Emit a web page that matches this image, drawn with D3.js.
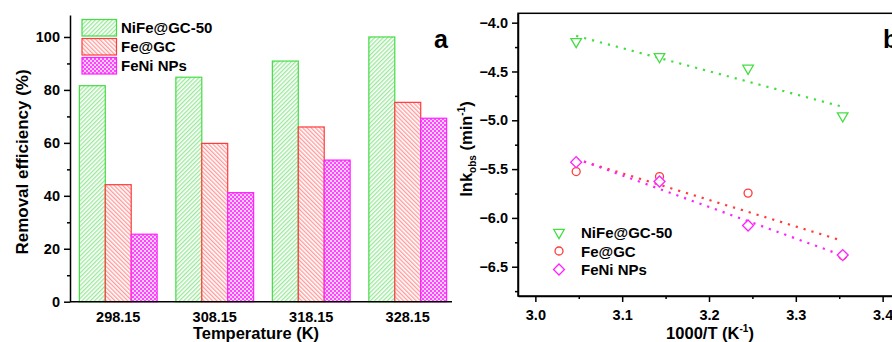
<!DOCTYPE html>
<html>
<head>
<meta charset="utf-8">
<script src="https://cdn.jsdelivr.net/npm/d3@7"></script>
<style>
  body { margin: 0; background: #fff; }
  svg { display: block; font-family: "Liberation Sans", Arial, sans-serif; font-weight: bold; }
  .axis path, .axis line { stroke: #000; stroke-width: 1.5; }
  .axis text { font-size: 14.5px; font-weight: bold; fill: #000; font-family: "Liberation Sans", Arial, sans-serif; }
</style>
</head>
<body>
<svg id="chart" width="892" height="342"></svg>
<script>
// data
const temps = ["298.15", "308.15", "318.15", "328.15"]
const seriesNames = ["NiFe@GC-50", "Fe@GC", "FeNi NPs"]
const effNiFe = [81.6, 84.8, 90.9, 100]
const effFe = [44.2, 59.8, 66.0, 75.3]
const effFeNi = [25.5, 41.2, 53.5, 69.3]
const invT = [3.354, 3.245, 3.143, 3.047]
const lnkNiFe = [-4.955, -4.467, -4.348, -4.194]
const lnkFe = [-6.385, -5.746, -5.576, -5.525]
const lnkFeNi = [-6.381, -6.078, -5.627, -5.429]
const effTicks = [0, 20, 40, 60, 80, 100]
const lnkTicks = [-4.0, -4.5, -5.0, -5.5, -6.0, -6.5]
const invTTicks = [3.0, 3.1, 3.2, 3.3, 3.4]

const colors = ["#44dd44", "#ff3b3b", "#ff22ff"]
const svg = d3.select("#chart")

// patterns for the bars
const defs = svg.append("defs")
function stripes(id, color, angle) {
  const p = defs.append("pattern").attr("id", id)
    .attr("patternUnits", "userSpaceOnUse").attr("width", 3).attr("height", 3)
    .attr("patternTransform", "rotate(" + angle + ")")
  p.append("rect").attr("width", 3).attr("height", 3).attr("fill", "#fff")
  p.append("rect").attr("width", 1.3).attr("height", 3).attr("fill", color)
}
stripes("patGreen", "#9be89b", 45)
stripes("patRed", "#ff9a9a", -45)
const chk = defs.append("pattern").attr("id", "patMag")
  .attr("patternUnits", "userSpaceOnUse").attr("width", 4).attr("height", 4)
chk.append("rect").attr("width", 4).attr("height", 4).attr("fill", "#ffd0ff")
chk.append("rect").attr("width", 2).attr("height", 2).attr("fill", "#ff44ff")
chk.append("rect").attr("x", 2).attr("y", 2).attr("width", 2).attr("height", 2).attr("fill", "#ff44ff")
const fills = ["url(#patGreen)", "url(#patRed)", "url(#patMag)"]

// ---------- panel a ----------
const x0 = d3.scaleBand().domain(temps).range([70, 456]).paddingInner(0.194).paddingOuter(0.097)
const x1 = d3.scaleBand().domain(seriesNames).range([0, x0.bandwidth()])
const yA = d3.scaleLinear().domain([0, 108.3]).range([301.7, 15])

const effs = [effNiFe, effFe, effFeNi]
const barData = []
temps.forEach((t, i) => seriesNames.forEach((s, j) => barData.push({ t: t, s: s, j: j, v: effs[j][i] })))

svg.append("g").selectAll("rect")
  .data(barData)
  .enter()
  .append("rect")
  .attr("x", d => x0(d.t) + x1(d.s))
  .attr("y", d => yA(d.v))
  .attr("width", x1.bandwidth())
  .attr("height", d => yA(0) - yA(d.v))
  .attr("fill", d => fills[d.j])
  .attr("stroke", d => colors[d.j])
  .attr("stroke-width", 1.2)

svg.append("g").attr("class", "axis")
  .attr("transform", "translate(70,0)")
  .call(d3.axisLeft(yA).tickValues(effTicks).tickSize(6).tickSizeOuter(0).tickPadding(4))
svg.append("g").attr("class", "axis")
  .attr("transform", "translate(70,0)")
  .call(d3.axisLeft(yA).tickValues([10, 30, 50, 70, 90]).tickSize(3).tickSizeOuter(0).tickFormat(""))
  .select(".domain").remove()

const xAxA = svg.append("g").attr("class", "axis")
  .attr("transform", "translate(0," + yA(0) + ")")
  .call(d3.axisBottom(x0).tickSize(0).tickSizeOuter(0).tickPadding(10))
xAxA.select(".domain").attr("d", "M70,0H452")

svg.append("text").attr("x", 256).attr("y", 339).attr("text-anchor", "middle")
  .attr("font-size", 16.5).text("Temperature (K)")
svg.append("text").attr("transform", "translate(28,162) rotate(-90)").attr("text-anchor", "middle")
  .attr("font-size", 17).text("Removal efficiency (%)")
svg.append("text").attr("x", 441).attr("y", 48).attr("text-anchor", "middle")
  .attr("font-size", 25).text("a")

// legend a
const legA = svg.append("g")
seriesNames.forEach((s, j) => {
  legA.append("rect").attr("x", 82).attr("y", 19.5 + j * 19).attr("width", 34.5).attr("height", 16.5)
    .attr("fill", fills[j]).attr("stroke", colors[j]).attr("stroke-width", 1.2)
  legA.append("text").attr("x", 121).attr("y", 33 + j * 19).attr("font-size", 15).text(s)
})

// ---------- panel b ----------
const xB = d3.scaleLinear().domain([2.98, 3.42]).range([518, 900])
const yB = d3.scaleLinear().domain([-6.8, -3.904]).range([296, 13.3])

svg.append("rect").attr("x", 518).attr("y", 13.3).attr("width", 382).attr("height", 282.7)
  .attr("fill", "none").attr("stroke", "#000").attr("stroke-width", 1.5)

svg.append("g").attr("class", "axis").attr("transform", "translate(518,0)")
  .call(d3.axisLeft(yB).tickValues(lnkTicks).tickSize(6).tickSizeOuter(0).tickPadding(4).tickFormat(d3.format(".1f")))
svg.append("g").attr("class", "axis").attr("transform", "translate(518,0)")
  .call(d3.axisLeft(yB).tickValues([-4.25, -4.75, -5.25, -5.75, -6.25, -6.75]).tickSize(3).tickFormat(""))
  .select(".domain").remove()
svg.append("g").attr("class", "axis").attr("transform", "translate(0,296)")
  .call(d3.axisBottom(xB).tickValues(invTTicks).tickSize(6).tickSizeOuter(0).tickPadding(8).tickFormat(d3.format(".1f")))
svg.append("g").attr("class", "axis").attr("transform", "translate(0,296)")
  .call(d3.axisBottom(xB).tickValues([3.05, 3.15, 3.25, 3.35]).tickSize(3).tickFormat(""))
  .select(".domain").remove()

// fit lines (least squares on the points)
function fit(xs, ys) {
  const mx = d3.mean(xs), my = d3.mean(ys)
  const b = d3.sum(xs, (v, i) => (v - mx) * (ys[i] - my)) / d3.sum(xs, v => (v - mx) * (v - mx))
  return v => my + b * (v - mx)
}
const lnks = [lnkNiFe, lnkFe, lnkFeNi]
const ext = d3.extent(invT)
lnks.forEach((ys, j) => {
  const f = fit(invT, ys)
  svg.append("line")
    .attr("x1", xB(ext[0])).attr("y1", yB(f(ext[0])))
    .attr("x2", xB(ext[1])).attr("y2", yB(f(ext[1])))
    .attr("stroke", colors[j]).attr("stroke-width", 2.2)
    .attr("stroke-dasharray", "2.2,6")
})

const symbols = [
  d3.symbol().type(d3.symbolTriangle).size(48),
  d3.symbol().type(d3.symbolCircle).size(50),
  d3.symbol().type(d3.symbolSquare).size(60)
]
const rot = ["rotate(180)", "", "rotate(45)"]
lnks.forEach((ys, j) => {
  svg.append("g").selectAll("path")
    .data(invT.map((v, i) => [v, ys[i]]))
    .enter()
    .append("path")
    .attr("d", symbols[j]())
    .attr("transform", d => "translate(" + xB(d[0]) + "," + yB(d[1]) + ") " + rot[j])
    .attr("fill", "#fff")
    .attr("fill-opacity", 0.9)
    .attr("stroke", colors[j])
    .attr("stroke-width", 1.3)
})

// legend b
seriesNames.forEach((s, j) => {
  const yy = 232.5 + j * 18.5
  svg.append("path").attr("d", symbols[j]())
    .attr("transform", "translate(559," + yy + ") " + rot[j])
    .attr("fill", "none").attr("stroke", colors[j]).attr("stroke-width", 1.3)
  svg.append("text").attr("x", 581).attr("y", yy + 5.5).attr("font-size", 15).text(s)
})

svg.append("text").attr("x", 883).attr("y", 48).attr("font-size", 25).text("b")

const xt = svg.append("text").attr("x", 710).attr("y", 339).attr("text-anchor", "middle").attr("font-size", 16.5)
xt.append("tspan").text("1000/T (K")
xt.append("tspan").attr("font-size", 10).attr("dy", -7).text("-1")
xt.append("tspan").attr("dy", 7).text(")")

const yt = svg.append("text").attr("transform", "translate(472,149) rotate(-90)").attr("text-anchor", "middle").attr("font-size", 16.5)
yt.append("tspan").text("lnk")
yt.append("tspan").attr("font-size", 10).attr("dy", 4).text("obs")
yt.append("tspan").attr("dy", -4).text(" (min")
yt.append("tspan").attr("font-size", 10).attr("dy", -7).text("-1")
yt.append("tspan").attr("dy", 7).text(")")
</script>
</body>
</html>
